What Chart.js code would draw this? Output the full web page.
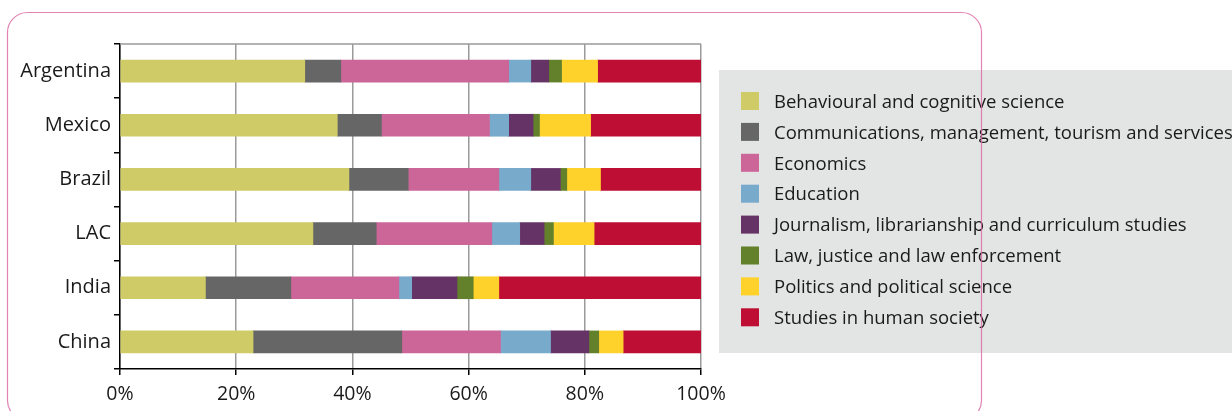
<!DOCTYPE html>
<html>
<head>
<meta charset="utf-8">
<script src="https://cdn.jsdelivr.net/npm/chart.js@4"></script>
<style>
  html, body { margin: 0; padding: 0; background: #ffffff; }
  canvas { display: block; }
</style>
</head>
<body>
<canvas id="c" width="1232" height="411"></canvas>
<script>
const categories = ['Argentina', 'Mexico', 'Brazil', 'LAC', 'India', 'China'];
const seriesLabels = [
  'Behavioural and cognitive science',
  'Communications, management, tourism and services',
  'Economics',
  'Education',
  'Journalism, librarianship and curriculum studies',
  'Law, justice and law enforcement',
  'Politics and political science',
  'Studies in human society'
];
const behavioural    = [31.8, 37.4, 39.4, 33.2, 14.7, 22.9];
const communications = [6.2, 7.6, 10.2, 10.9, 14.7, 25.6];
const economics      = [28.9, 18.6, 15.6, 19.9, 18.6, 17.0];
const education      = [3.8, 3.3, 5.5, 4.8, 2.2, 8.6];
const journalism     = [3.1, 4.2, 5.1, 4.2, 7.8, 6.6];
const law            = [2.2, 1.1, 1.1, 1.6, 2.8, 1.7];
const politics       = [6.2, 8.8, 5.8, 7.0, 4.4, 4.2];
const society        = [17.8, 19.0, 17.3, 18.4, 34.8, 13.4];
const xTickValues    = [0, 20, 40, 60, 80, 100];

const seriesValues = [behavioural, communications, economics, education, journalism, law, politics, society];
const seriesColors = ['#CFCB67', '#666666', '#CC6699', '#78AACC', '#663366', '#63802B', '#FFD12B', '#BE0E33'];

const FONT = '"Open Sans", "Noto Sans", sans-serif';

const decorPlugin = {
  id: 'decor',
  beforeDraw(chart) {
    const ctx = chart.ctx;
    ctx.save();
    ctx.fillStyle = '#ffffff';
    ctx.fillRect(0, 0, chart.width, chart.height);
    ctx.restore();
  },
  afterDatasetsDraw(chart) {
    const ctx = chart.ctx;
    const a = chart.chartArea;
    ctx.save();
    ctx.strokeStyle = '#9a9a9a';
    ctx.lineWidth = 1.5;
    ctx.beginPath();
    ctx.moveTo(a.left, a.top);
    ctx.lineTo(a.right, a.top);
    ctx.stroke();
    ctx.restore();
  },
  afterDraw(chart) {
    const ctx = chart.ctx;
    ctx.save();
    const lx = 719, ly = 70, lw = 1232 - 719, lh = 283;
    ctx.fillStyle = '#E3E4E4';
    ctx.fillRect(lx, ly, lw, lh);
    const rowTop = 92, rowStep = 30.9, sq = 18;
    ctx.font = '18.5px ' + FONT;
    ctx.textBaseline = 'middle';
    ctx.textAlign = 'left';
    chart.data.datasets.forEach((ds, i) => {
      const y = rowTop + i * rowStep;
      ctx.fillStyle = ds.backgroundColor;
      ctx.fillRect(741, y, sq, sq);
      ctx.fillStyle = '#1a1a1a';
      ctx.fillText(ds.label, 774, y + sq / 2 + 1.5);
    });
    const x0 = 7.5, y0 = 12.5, x1 = 981.5, y1 = 420.5, r = 20;
    ctx.strokeStyle = 'rgba(219, 100, 160, 0.8)';
    ctx.lineWidth = 1.2;
    ctx.beginPath();
    ctx.moveTo(x0 + r, y0);
    ctx.lineTo(x1 - r, y0);
    ctx.arcTo(x1, y0, x1, y0 + r, r);
    ctx.lineTo(x1, y1 - r);
    ctx.arcTo(x1, y1, x1 - r, y1, r);
    ctx.lineTo(x0 + r, y1);
    ctx.arcTo(x0, y1, x0, y1 - r, r);
    ctx.lineTo(x0, y0 + r);
    ctx.arcTo(x0, y0, x0 + r, y0, r);
    ctx.closePath();
    ctx.stroke();
    ctx.restore();
  }
};

new Chart(document.getElementById('c'), {
  type: 'bar',
  data: {
    labels: categories,
    datasets: seriesLabels.map((label, i) => ({
      label: label,
      data: seriesValues[i],
      backgroundColor: seriesColors[i],
      borderWidth: 0,
      barThickness: 22
    }))
  },
  options: {
    indexAxis: 'y',
    responsive: false,
    animation: false,
    layout: { padding: { left: 0, right: 531, top: 44, bottom: 0 } },
    plugins: {
      legend: { display: false },
      tooltip: { enabled: false }
    },
    scales: {
      x: {
        stacked: true,
        min: 0,
        max: 100,
        afterBuildTicks(scale) {
          scale.ticks = xTickValues.map(v => ({ value: v }));
        },
        afterFit(scale) { scale.height = 42; },
        ticks: {
          callback: v => v + '%',
          color: '#1a1a1a',
          font: { family: FONT, size: 19.5 },
          padding: 8,
          maxRotation: 0,
          autoSkip: false
        },
        grid: {
          color: '#9a9a9a',
          lineWidth: 1.5,
          tickColor: '#000000',
          tickLength: 6,
          drawTicks: true
        },
        border: { color: '#000000', width: 1.5 }
      },
      y: {
        stacked: true,
        afterFit(scale) { scale.width = 120; },
        ticks: {
          color: '#1a1a1a',
          font: { family: FONT, size: 20 },
          padding: 3
        },
        grid: {
          offset: true,
          drawOnChartArea: false,
          tickColor: '#000000',
          tickLength: 6,
          lineWidth: 1.5
        },
        border: { color: '#000000', width: 1.5 }
      }
    }
  },
  plugins: [decorPlugin]
});
</script>
</body>
</html>
